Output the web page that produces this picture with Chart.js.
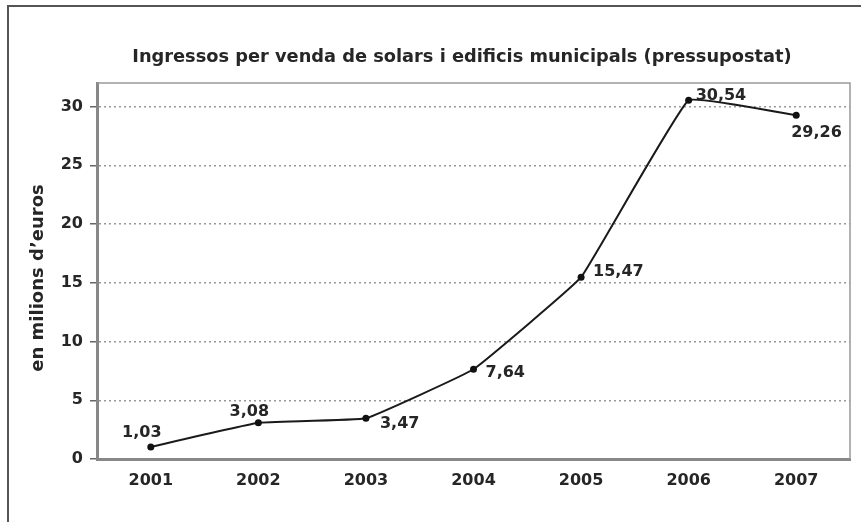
<!DOCTYPE html>
<html>
<head>
<meta charset="utf-8">
<script src="https://cdn.jsdelivr.net/npm/chart.js@4.4.0/dist/chart.umd.min.js"></script>
<style>
  html, body { margin: 0; padding: 0; background: #fff; }
  #wrap { position: relative; width: 861px; height: 522px; overflow: hidden; }
  #frame { position: absolute; left: 7px; top: 5px; width: 870px; height: 540px; border: 2px solid #555; box-sizing: border-box; }
  canvas { position: absolute; left: 0; top: 0; }
</style>
</head>
<body>
<div id="wrap">
  <div id="frame"></div>
  <canvas id="myChart" width="861" height="522"></canvas>
</div>
<script>
// dades del gràfic
const chartTitle = 'Ingressos per venda de solars i edificis municipals (pressupostat)';
const yTitle = 'en milions d\u2019euros';
const years = ['2001', '2002', '2003', '2004', '2005', '2006', '2007'];
const ingressos = [1.03, 3.08, 3.47, 7.64, 15.47, 30.54, 29.26];
const yTicks = [0, 5, 10, 15, 20, 25, 30];

// on va cada etiqueta respecte al punt (dx, dy, alineació)
const labelOffsets = [
    [-9, -14, 'center'],
    [-9, -11, 'center'],
    [14, 6, 'left'],
    [12, 4, 'left'],
    [12, -5, 'left'],
    [7, -4, 'left'],
    [-5, 18, 'left']
];

const FONT = "'DejaVu Sans', sans-serif";
const TXT = '#262626';

// títols, marc del plot (dalt i dreta) i etiquetes de valors
const extras = {
    id: 'extras',
    beforeDatasetsDraw(chart) {
        const a = chart.chartArea;
        const ctx = chart.ctx;
        ctx.save();
        ctx.strokeStyle = '#999';
        ctx.lineWidth = 1.5;
        ctx.beginPath();
        ctx.moveTo(a.left, a.top);
        ctx.lineTo(a.right, a.top);
        ctx.lineTo(a.right, a.bottom);
        ctx.stroke();

        ctx.fillStyle = TXT;
        ctx.textAlign = 'center';
        ctx.textBaseline = 'middle';
        ctx.font = 'bold 17.8px ' + FONT;
        ctx.fillText(chartTitle, 462, 57);

        ctx.translate(38, 278);
        ctx.rotate(-Math.PI / 2);
        ctx.font = 'bold 18px ' + FONT;
        ctx.fillText(yTitle, 0, 0);
        ctx.restore();
    },
    afterDatasetsDraw(chart) {
        const ctx = chart.ctx;
        const pts = chart.getDatasetMeta(0).data;
        ctx.save();
        ctx.font = 'bold 16px ' + FONT;
        ctx.fillStyle = TXT;
        ctx.textBaseline = 'middle';
        pts.forEach(function(p, i) {
            const o = labelOffsets[i];
            ctx.textAlign = o[2];
            ctx.fillText(ingressos[i].toFixed(2).replace('.', ','), p.x + o[0], p.y + o[1]);
        });
        ctx.restore();
    }
};

const ctx = document.getElementById('myChart').getContext('2d');
const myChart = new Chart(ctx, {
    type: 'line',
    data: {
        labels: years,
        datasets: [{
            data: ingressos,
            borderColor: '#1a1a1a',
            borderWidth: 2,
            tension: 0.08,
            pointRadius: 3.5,
            pointBackgroundColor: '#111',
            pointBorderWidth: 0,
            fill: false
        }]
    },
    options: {
        responsive: false,
        animation: false,
        devicePixelRatio: 1,
        layout: { padding: { top: 83, right: 11, bottom: 0, left: 0 } },
        plugins: {
            legend: { display: false },
            tooltip: { enabled: false },
            title: { display: false }
        },
        scales: {
            x: {
                offset: true,
                grid: { display: false },
                border: { display: true, color: '#888', width: 3 },
                ticks: {
                    color: TXT,
                    padding: 4,
                    font: { family: FONT, size: 16, weight: 'bold' }
                },
                afterFit(scale) { scale.height = 522 - 459; }
            },
            y: {
                min: 0,
                max: 32,
                afterBuildTicks(scale) {
                    scale.ticks = yTicks.map(function(v) { return { value: v }; });
                },
                grid: {
                    color: function(c) { return c.tick && c.tick.value === 0 ? 'rgba(0,0,0,0)' : '#999'; },
                    lineWidth: 1.5,
                    tickLength: 7,
                    tickColor: '#666'
                },
                border: { display: true, color: '#888', width: 3, dash: [2, 3] },
                ticks: {
                    color: TXT,
                    padding: 7,
                    font: { family: FONT, size: 16, weight: 'bold' }
                },
                afterFit(scale) { scale.width = 97; }
            }
        }
    },
    plugins: [extras]
});
</script>
</body>
</html>
